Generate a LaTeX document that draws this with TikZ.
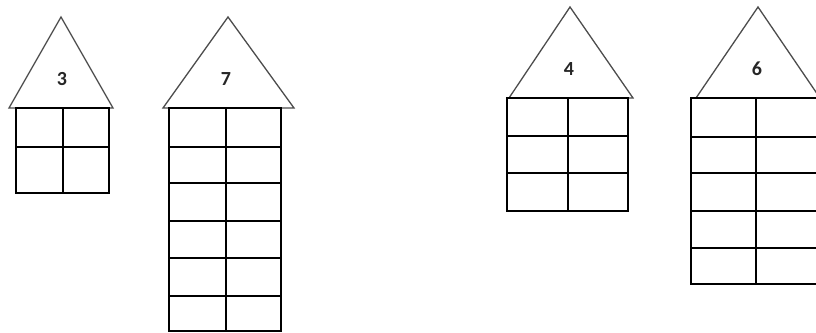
\documentclass[tikz,border=0pt]{standalone}
\usepackage{fontspec}
\newfontfamily\labelfont{Carlito}
\begin{document}
\begin{tikzpicture}[x=1pt,y=-1pt,
  roof/.style={draw=black!70,line width=1.3pt,line join=miter},
  body/.style={draw=black,line width=1.6pt},
  lbl/.style={font=\labelfont\bfseries\fontsize{20}{20}\selectfont,text=black!85,inner sep=0pt}]
\useasboundingbox (0,0) rectangle (816,332);
\clip (0,0) rectangle (816,332);
% house 1
\draw[roof] (9,108) -- (61,17) -- (113,108) -- cycle;
\draw[body] (16,108) rectangle (109,193);
\draw[body] (63,108) -- (63,193);
\draw[body] (16,147) -- (109,147);
\node[lbl] (l3) at (62,79) {3};
% house 2
\draw[roof] (163,108) -- (228,17) -- (294,108) -- cycle;
\draw[body] (169,108) rectangle (281,331);
\draw[body] (226,108) -- (226,331);
\foreach \y in {147,183,221,258,296} \draw[body] (169,\y) -- (281,\y);
\node[lbl] (l7) at (226,79) {7};
% house 3
\draw[roof] (509,98) -- (570,7) -- (633,98) -- cycle;
\draw[body] (507,98) rectangle (628,211);
\draw[body] (568,98) -- (568,211);
\foreach \y in {136,173} \draw[body] (507,\y) -- (628,\y);
\node[lbl] (l4) at (569,69) {4};
% house 4
\draw[roof] (696,98) -- (758,7) -- (820,98) -- cycle;
\draw[body] (691,98) rectangle (822,284);
\draw[body] (756,98) -- (756,284);
\foreach \y in {137,173,211,248} \draw[body] (691,\y) -- (822,\y);
\node[lbl] (l6) at (757,69) {6};
\end{tikzpicture}
\end{document}
